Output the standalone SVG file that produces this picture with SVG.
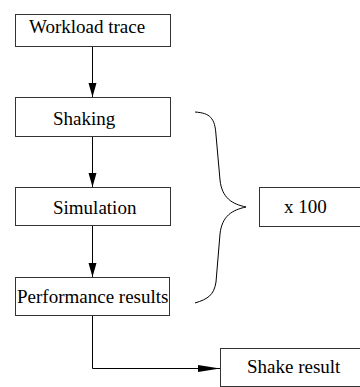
<svg xmlns="http://www.w3.org/2000/svg" width="360" height="387" viewBox="0 0 360 387">
<style>
.box{fill:#fff;stroke:#333;stroke-width:1}
.lbl{font-family:"Liberation Serif","Times New Roman",serif;font-size:19px;fill:#000}
.ln{fill:none;stroke:#000;stroke-width:1}
</style>
<defs>
<marker id="ah" markerUnits="userSpaceOnUse" markerWidth="14" markerHeight="10" refX="14" refY="5" orient="auto">
<path d="M0,1 L14,5 L0,9 Z" fill="#000"/>
</marker>
<marker id="ah2" markerUnits="userSpaceOnUse" markerWidth="22" markerHeight="8" refX="22" refY="4" orient="auto">
<path d="M0,0.5 L22,4 L0,7.5 Z" fill="#000"/>
</marker>
</defs>
<rect width="360" height="387" fill="#fff"/>
<g id="connectors">
<line class="ln" x1="92.5" y1="46" x2="92.5" y2="97" marker-end="url(#ah)"/>
<line class="ln" x1="92.5" y1="136" x2="92.5" y2="187" marker-end="url(#ah)"/>
<line class="ln" x1="92.5" y1="225" x2="92.5" y2="277" marker-end="url(#ah)"/>
<path class="ln" d="M92.5,315 V368.5 H220" marker-end="url(#ah2)"/>
<path class="ln" d="M195,112 C210,113 215,118 216,135 L220,180 C222,198 232,204 246,207 C232,210 222,216 220,234 L216,282 C214,295 208,299 195,303"/>
</g>
<g id="workload"><rect class="box" x="15.5" y="14.5" width="155" height="32"/><text class="lbl" x="29" y="33">Workload trace</text></g>
<g id="shaking"><rect class="box" x="15.5" y="97.5" width="155" height="39"/><text class="lbl" x="53" y="125">Shaking</text></g>
<g id="simulation"><rect class="box" x="15.5" y="187.5" width="155" height="38"/><text class="lbl" x="53" y="214">Simulation</text></g>
<g id="performance"><rect class="box" x="15.5" y="277.5" width="154" height="38"/><text class="lbl" x="17" y="303">Performance results</text></g>
<g id="x100"><rect class="box" x="259.5" y="187.5" width="110" height="39"/><text class="lbl" x="284" y="213">x 100</text></g>
<g id="shake"><rect class="box" x="220.5" y="348.5" width="150" height="38"/><text class="lbl" x="247" y="373">Shake result</text></g>
</svg>
